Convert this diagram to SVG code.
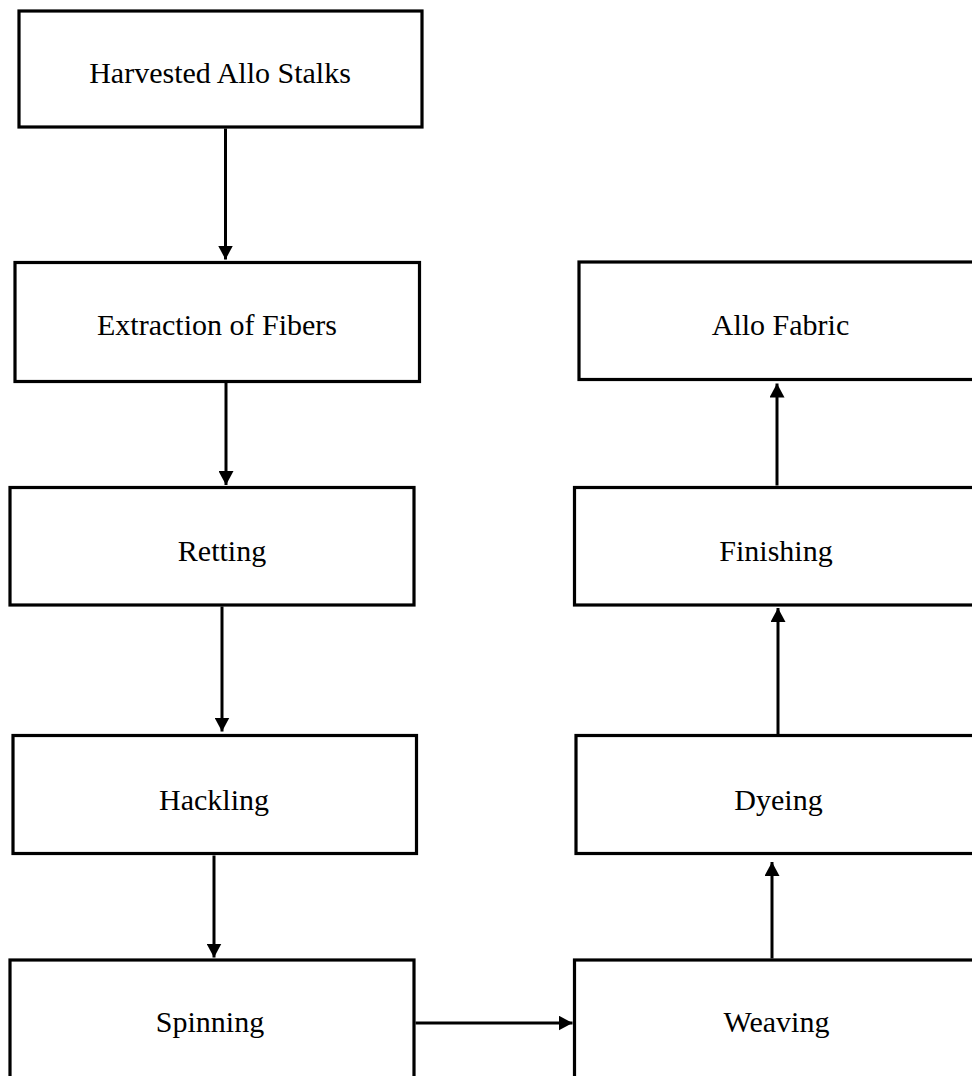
<svg xmlns="http://www.w3.org/2000/svg" width="972" height="1076" viewBox="0 0 972 1076">
  <style>
    .box { fill: #ffffff; stroke: #000000; stroke-width: 3.2; }
    .lbl { font-family: "Liberation Serif", "Times New Roman", serif; font-size: 30px; fill: #000000; text-anchor: middle; }
    .conn { stroke: #000000; stroke-width: 3; fill: none; marker-end: url(#arrow); }
  </style>
  <defs>
    <marker id="arrow" viewBox="0 0 14 15" refX="14" refY="7.5" markerWidth="14" markerHeight="15" markerUnits="userSpaceOnUse" orient="auto">
      <path d="M0,0 L14,7.5 L0,15 Z" fill="#000000"/>
    </marker>
  </defs>
  <rect width="972" height="1076" fill="#ffffff"/>

  <g id="connectors">
    <line class="conn" x1="225.5" y1="128.5" x2="225.5" y2="259.5"/>
    <line class="conn" x1="226" y1="383" x2="226" y2="485"/>
    <line class="conn" x1="222" y1="606.5" x2="222" y2="731.5"/>
    <line class="conn" x1="214" y1="855.5" x2="214" y2="957.5"/>
    <line class="conn" x1="415.5" y1="1023" x2="572.5" y2="1023"/>
    <line class="conn" x1="772" y1="958.5" x2="772" y2="862"/>
    <line class="conn" x1="778" y1="734" x2="778" y2="608"/>
    <line class="conn" x1="777" y1="485.5" x2="777" y2="383.5"/>
  </g>

  <g id="harvested">
    <rect class="box" x="19" y="11" width="403" height="116"/>
    <text class="lbl" x="220" y="83">Harvested Allo Stalks</text>
  </g>
  <g id="extraction">
    <rect class="box" x="15" y="262.5" width="404.5" height="119"/>
    <text class="lbl" x="217" y="335">Extraction of Fibers</text>
  </g>
  <g id="retting">
    <rect class="box" x="10" y="487.5" width="404" height="117.5"/>
    <text class="lbl" x="222" y="560.5">Retting</text>
  </g>
  <g id="hackling">
    <rect class="box" x="13" y="735.5" width="403.5" height="118"/>
    <text class="lbl" x="214" y="809.5">Hackling</text>
  </g>
  <g id="spinning">
    <rect class="box" x="10" y="960" width="404" height="130"/>
    <text class="lbl" x="210" y="1031.5">Spinning</text>
  </g>
  <g id="allo-fabric">
    <rect class="box" x="579" y="262" width="420" height="117.5"/>
    <text class="lbl" x="780.5" y="334.5">Allo Fabric</text>
  </g>
  <g id="finishing">
    <rect class="box" x="574.5" y="487.5" width="420" height="117.5"/>
    <text class="lbl" x="776" y="560.5">Finishing</text>
  </g>
  <g id="dyeing">
    <rect class="box" x="576" y="735.5" width="420" height="118"/>
    <text class="lbl" x="778.5" y="809.5">Dyeing</text>
  </g>
  <g id="weaving">
    <rect class="box" x="574.5" y="960" width="420" height="130"/>
    <text class="lbl" x="776.5" y="1031.5">Weaving</text>
  </g>
</svg>
